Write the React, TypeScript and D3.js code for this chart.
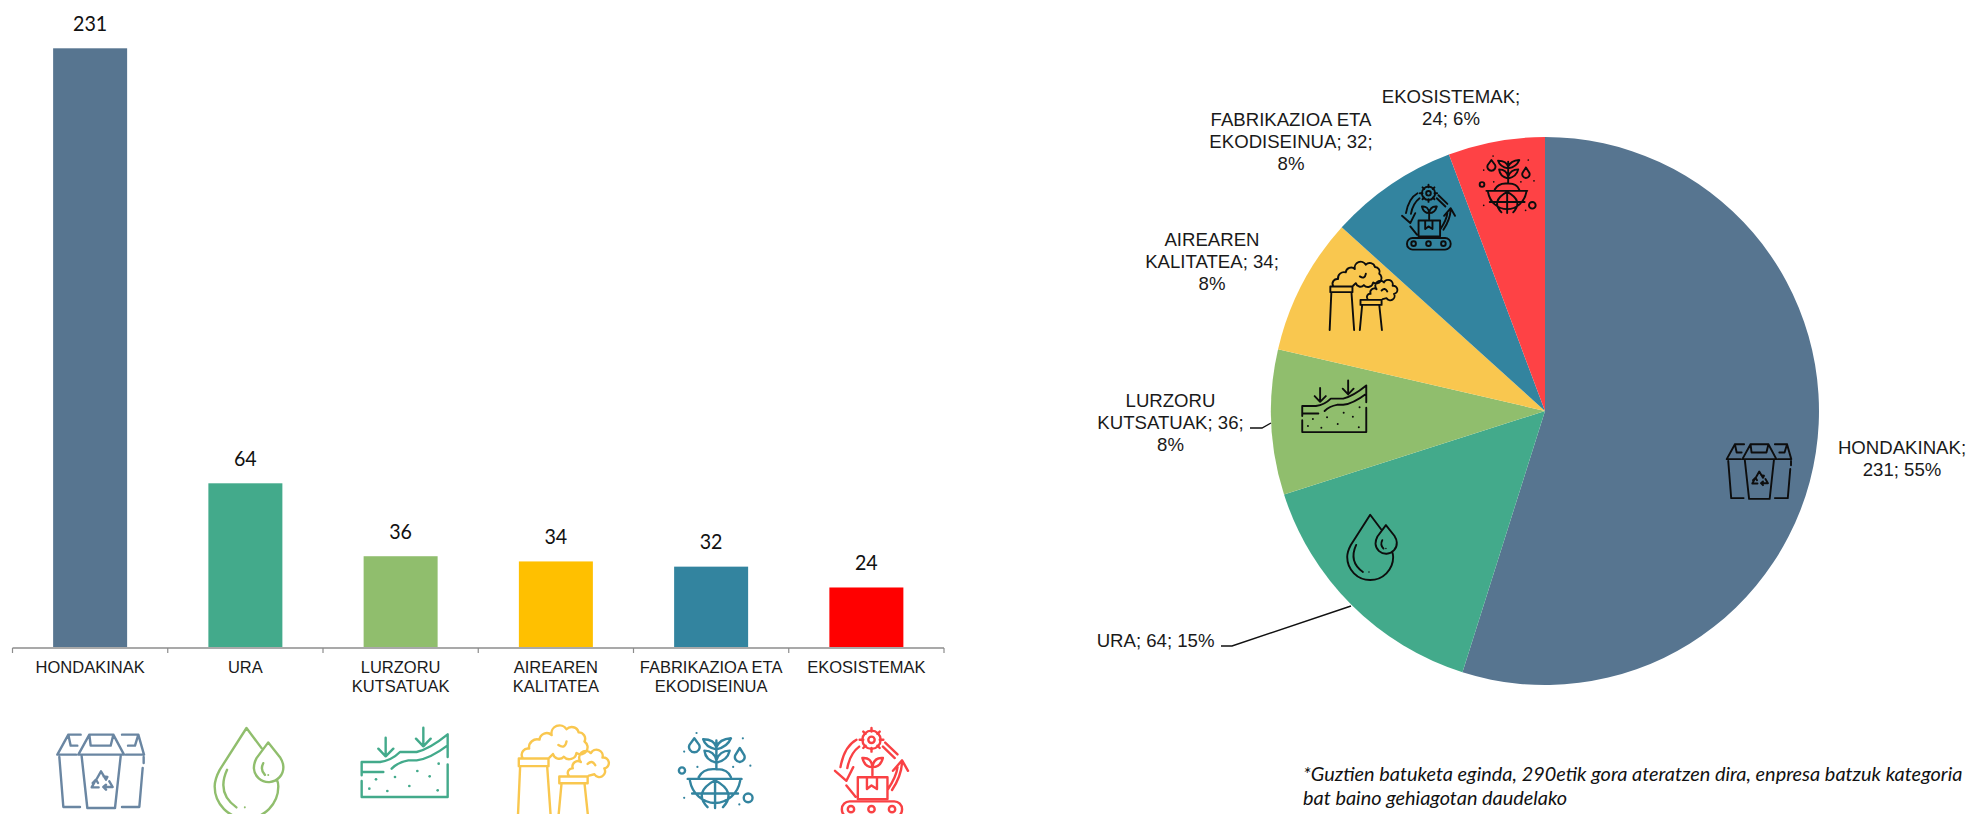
import React from "react";
import * as d3 from "d3";

// ---- data ----
const categories = ["HONDAKINAK", "URA", "LURZORU KUTSATUAK", "AIREAREN KALITATEA", "FABRIKAZIOA ETA EKODISEINUA", "EKOSISTEMAK"];
const values = [231, 64, 36, 34, 32, 24];
const axisLabelLines = [["HONDAKINAK"], ["URA"], ["LURZORU", "KUTSATUAK"], ["AIREAREN", "KALITATEA"], ["FABRIKAZIOA ETA", "EKODISEINUA"], ["EKOSISTEMAK"]];
const barColors = ["#577590", "#43aa8b", "#90be6d", "#ffc000", "#33849f", "#ff0000"];
const pieColors = ["#577590", "#43aa8b", "#90be6d", "#f9c74f", "#33849f", "#fe4245"];
const iconColors = ["#6a86a2", "#90be6d", "#43aa8b", "#f9c74f", "#33849f", "#f94144"];
const pieLabelLines = [
  ["HONDAKINAK;", "231; 55%"],
  ["URA; 64; 15%"],
  ["LURZORU", "KUTSATUAK; 36;", "8%"],
  ["AIREAREN", "KALITATEA; 34;", "8%"],
  ["FABRIKAZIOA ETA", "EKODISEINUA; 32;", "8%"],
  ["EKOSISTEMAK;", "24; 6%"],
];
const footnoteLines = [
  "*Guztien batuketa eginda, 290etik gora ateratzen dira, enpresa batzuk kategoria",
  "bat baino gehiagotan daudelako",
];

// ---- layout ----
const W = 1969, H = 814;
const axisY = 648;
const pieCx = 1545, pieCy = 411, pieR = 274;
const pieLabelPos: [number, number][] = [[1902, 448], [1155.6, 641], [1170.5, 401], [1212, 240], [1291, 120], [1451, 96.5]];
const pieLabelStep = 22;
const leaders = ["M1250 428H1262L1271 423", "M1221 646H1232L1351 606"];
const bottomBoxes: [number, number, number][] = [[55, 733, 90], [213, 727, 72], [360, 727, 90], [517, 727, 90], [678, 733, 75], [835, 727, 73]];
const pieIconBoxes: [number, number, number][] = [[1725, 443, 67], [1346, 514, 52], [1301, 380, 67], [1329, 263, 67], [1479, 156, 57], [1402, 184, 53]];

type Icon = { vb: [number, number, number, number]; d: string; dots: [number, number, number][]; rings: [number, number, number][] };

const trash: Icon = {
  vb: [165, 340, 270, 232],
  d: "M235 405L268 345H340L372 405ZM268 345L272 378H332L340 345M245 410L262 565H345L362 410M242 345H205L172 405H228M205 345L212 378H232M178 412L190 562H240M366 345H415L432 405H378M415 345L405 378H384M428 445L418 562H366M431 412V430M290 478L303 455L318 480M311 470L322 472L318 480M328 485L338 502H312M318 495L310 502L318 510M296 503H275L286 483M278 490L288 480L294 490",
  dots: [], rings: [],
};
const water: Icon = {
  vb: [640, 322, 215, 278],
  d: "M785 385L740 325L660 450Q645 478 645 500A95 95 0 0 0 835 500Q835 490 832 482M805 368L770 415Q762 430 762 445A44 44 0 0 0 850 440Q850 428 840 412ZM682 450Q650 520 710 562M790 430Q780 450 795 465",
  dots: [[735, 562, 3], [805, 465, 3]], rings: [],
};
const soil: Icon = {
  vb: [1080, 320, 270, 216],
  d: "M1085 465V425H1140Q1175 420 1200 395H1250Q1290 385 1343 342V410M1343 432V530H1085V482M1085 455H1150M1175 445Q1195 425 1225 420H1250Q1290 415 1343 375M1157 352V408M1135 385L1157 408L1180 385M1270 322V378M1248 355L1270 378L1292 355",
  dots: [[1128, 477, 4], [1185, 470, 4], [1252, 452, 4], [1289, 468, 4], [1316, 430, 4], [1108, 505, 4], [1162, 512, 4], [1228, 497, 4], [1313, 510, 4]],
  rings: [],
};
const factory: Icon = {
  vb: [268, 400, 200, 200],
  d: "M272 470H338V487H272ZM275 487L270 600M335 487L343 600M280 468A14 14 0 0 1 295 448A18 18 0 0 1 318 428A16 16 0 0 1 345 418A18 18 0 0 1 378 405A16 16 0 0 1 405 412A14 14 0 0 1 418 432A14 14 0 0 1 400 458A16 16 0 0 1 372 466A14 14 0 0 1 348 460L340 468M362 510H425V525H362ZM367 525L360 600M418 525L426 600M383 508A10 10 0 0 1 392 492A12 12 0 0 1 410 478A14 14 0 0 1 432 458A14 14 0 0 1 458 468A12 12 0 0 1 462 492A12 12 0 0 1 440 505L428 508M360 440Q375 450 378 432M425 482Q435 472 442 485",
  dots: [], rings: [],
};
const plant: Icon = {
  vb: [718, 78, 170, 172],
  d: "M740 182H862M745 186A58 62 0 0 0 859 186M802 185V248M802 185Q752 212 785 246M802 185Q852 212 820 246M750 215H854M765 178Q775 158 802 160Q830 158 838 178M805 160V95M805 145Q780 140 778 118Q800 118 805 140M805 115Q780 110 775 92Q800 92 805 110M805 145Q830 140 835 118Q812 118 805 140M805 115Q830 110 838 90Q812 92 805 110M755 90L744 105A12 12 0 1 0 766 105ZM858 112L848 128A11 11 0 1 0 868 128Z",
  dots: [[760, 78, 2.5], [865, 90, 2.5], [732, 120, 2.5], [882, 152, 2.5], [762, 155, 2.5], [843, 155, 2.5], [732, 225, 2.5], [857, 240, 2.5]],
  rings: [[727, 163, 7], [877, 225, 10]],
};
const gear: Icon = {
  vb: [485, 162, 160, 200],
  d: "M565 164V172M565 208V216M539 190H547M583 190H591M547 172L552 177M578 203L583 208M583 172L578 177M552 203L547 208M532 190Q505 205 497 250M538 205Q518 220 512 252M485 258L510 280L525 250M595 196L622 222M590 205L616 230M612 258L632 235L645 258M610 300Q630 270 632 240M600 300Q620 270 622 250M535 272H600V320H535ZM555 272V298L565 290L577 298V272M567 268V245M567 250Q550 250 545 230Q565 228 567 250M567 250Q585 250 590 230Q570 228 567 250M510 290L530 315",
  dots: [], rings: [[565, 190, 20], [565, 190, 7], [520, 342, 7], [565, 342, 7], [610, 342, 7]],
};
const icons: Icon[] = [trash, water, soil, factory, plant, gear];

function IconMark({ icon, box, color, px }: { icon: Icon; box: [number, number, number]; color: string; px: number }) {
  const [x, y, w] = box;
  const [vx, vy, vw] = icon.vb;
  const k = w / vw;
  return (
    <g transform={`translate(${x},${y}) scale(${k}) translate(${-vx},${-vy})`} fill="none" stroke={color} strokeWidth={px / k} strokeLinecap="round" strokeLinejoin="round">
      <path d={icon.d} />
      {icon === gear && <rect x={500} y={325} width={132} height={35} rx={17} />}
      {icon.rings.map(([cx, cy, r], i) => <circle key={i} cx={cx} cy={cy} r={r} />)}
      {icon.dots.map(([cx, cy, r], i) => <circle key={i} cx={cx} cy={cy} r={r} fill={color} stroke="none" />)}
    </g>
  );
}

export default function App() {
  const x = d3.scaleBand<string>().domain(categories).range([12.5, 944]);
  const y = d3.scaleLinear().domain([0, 231]).range([650, 48.3]);
  const barW = 74;
  const arcs = d3.pie<number>().sort(null).startAngle(0).endAngle(2 * Math.PI)(values);
  const arc = d3.arc<d3.PieArcDatum<number>>().innerRadius(0).outerRadius(pieR);
  const edges = [...categories.map((c) => x(c)!), 944];

  return (
    <svg width={W} height={H} viewBox={`0 0 ${W} ${H}`} style={{ position: "absolute", left: 0, top: 0, background: "#fff" }}>
      {/* bars */}
      {categories.map((c, i) => {
        const cx = x(c)! + x.bandwidth() / 2;
        const label = String(values[i]);
        return (
          <g key={c}>
            <rect x={cx - barW / 2} y={y(values[i])} width={barW} height={axisY - 1 - y(values[i])} fill={barColors[i]} />
            <text x={cx} y={y(values[i]) - 17.5} textAnchor="middle" fontFamily="Lato, sans-serif" fontSize={22} textLength={label.length * 11.4} lengthAdjust="spacingAndGlyphs" fill="#111">{label}</text>
            {axisLabelLines[i].map((l, j) => (
              <text key={j} x={cx} y={673 + j * 19} textAnchor="middle" fontFamily="'Liberation Sans', Arial, sans-serif" fontSize={16.5} fill="#1a1a1a">{l}</text>
            ))}
            <IconMark icon={icons[i]} box={bottomBoxes[i]} color={iconColors[i]} px={2.4} />
          </g>
        );
      })}
      {/* axis */}
      <path d={`M${edges[0]} 648H${edges[6]}`} stroke="#8c8c8c" strokeWidth={1.6} fill="none" />
      {edges.map((e, i) => <line key={i} x1={e} x2={e} y1={648} y2={653} stroke="#8c8c8c" strokeWidth={1.2} />)}

      {/* pie */}
      <g transform={`translate(${pieCx},${pieCy})`}>
        {arcs.map((a, i) => <path key={i} d={arc(a)!} fill={pieColors[i]} />)}
      </g>
      {icons.map((ic, i) => <IconMark key={i} icon={ic} box={pieIconBoxes[i]} color="#0d0d0d" px={1.9} />)}
      {leaders.map((d, i) => <path key={i} d={d} fill="none" stroke="#111" strokeWidth={1.4} />)}
      {pieLabelLines.map((lines, i) => lines.map((l, j) => (
        <text key={`${i}-${j}`} x={pieLabelPos[i][0]} y={pieLabelPos[i][1] + 6 + j * pieLabelStep} textAnchor="middle" fontFamily="'Liberation Sans', Arial, sans-serif" fontSize={18.6} fill="#1a1a1a">{l}</text>
      )))}

      {/* footnote */}
      {footnoteLines.map((l, i) => (
        <text key={i} x={1303} y={781 + i * 24} fontFamily="Lato, sans-serif" fontStyle="italic" fontSize={19.9} fill="#111">{l}</text>
      ))}
    </svg>
  );
}
